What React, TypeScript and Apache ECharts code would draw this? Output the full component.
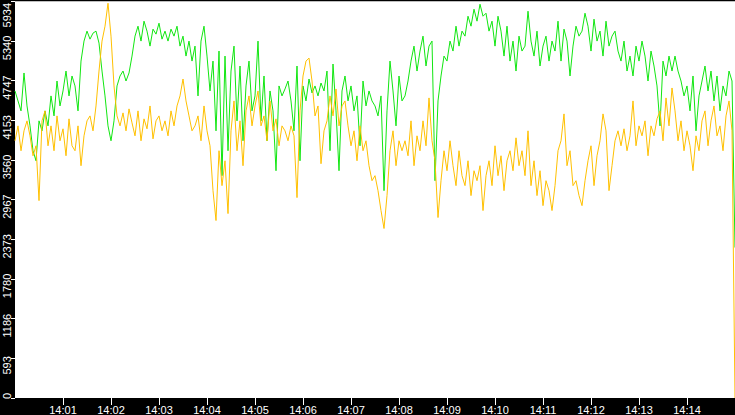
import { useEffect, useRef } from "react";
import * as echarts from "echarts";

// one sample every 3.75 s, 14:00:00 -> 14:15:00
const SAMPLE_SECONDS = 3.75;

const timeLabels = [
  "14:01", "14:02", "14:03", "14:04", "14:05", "14:06", "14:07",
  "14:08", "14:09", "14:10", "14:11", "14:12", "14:13", "14:14"
];

const yTickLabels = ["0", "593", "1186", "1780", "2373", "2967", "3560", "4153", "4747", "5340", "5934"];
const Y_MAX = 5934;

const greenSeries = [
  4592, 4443, 4294, 4861, 4368, 4070, 3698, 3548, 4145, 3996,
  4294, 4070, 4518, 4219, 4741, 4368, 4592, 4890, 4518, 4816,
  4667, 4294, 5039, 5338, 5487, 5367, 5457, 5487, 5308, 4890,
  4518, 4070, 3847, 4145, 4667, 4816, 4890, 4741, 4861, 5114,
  5412, 5561, 5338, 5636, 5487, 5263, 5517, 5442, 5606, 5367,
  5487, 5338, 5517, 5412, 5561, 5263, 5412, 5114, 5338, 5039,
  5263, 4518, 5338, 5561, 5114, 4592, 5039, 3996, 5189, 3325,
  5114, 3698, 4890, 5263, 4145, 4965, 3847, 4667, 5039, 4294,
  4518, 5338, 4145, 4816, 3847, 4592, 4294, 3399, 4667, 4518,
  4622, 4741, 4443, 3996, 4965, 3548, 4667, 4443, 4771, 4562,
  4667, 4518, 4711, 4592, 4890, 3698, 4995, 4294, 3399, 4592,
  4816, 4443, 4667, 4294, 4518, 3772, 4741, 4368, 4592, 4443,
  4368, 4219, 4518, 3101, 4294, 5039, 4592, 4070, 4816, 4443,
  4518, 4741, 5039, 5263, 4890, 5189, 5412, 4965, 5263, 5338,
  3250, 4443, 4816, 5114, 5039, 5338, 5189, 5561, 5263, 5487,
  5412, 5710, 5561, 5815, 5636, 5889, 5710, 5755, 5487, 5636,
  5263, 5710, 5487, 5114, 5561, 5039, 5338, 4890, 5412, 5189,
  5263, 5785, 5338, 5114, 5487, 4965, 5263, 5412, 5039, 5338,
  5189, 5636, 5039, 5517, 5338, 4816, 5263, 5561, 5412, 5487,
  5755, 5561, 5189, 5666, 5338, 5487, 5114, 5636, 5263, 5412,
  5487, 5189, 5039, 5338, 4890, 5114, 4816, 5263, 5039, 5338,
  5114, 4741, 5189, 4965, 4667, 4070, 5039, 4816, 5114, 4890,
  5114, 4890, 4741, 4518, 4667, 4294, 4816, 3996, 4518, 4741,
  4965, 4592, 4890, 4443, 4816, 4294, 4667, 4518, 4890, 4741,
  2250
];

const orangeSeries = [
  3847, 4070, 3698, 3996, 4145, 3921, 3623, 3772, 2952, 4145,
  4294, 3772, 4070, 3698, 4219, 3847, 4026, 3623, 4175, 3772,
  3698, 4070, 3474, 3921, 4145, 4219, 3996, 4368, 4890, 5338,
  5561, 5904, 5412, 4667, 4219, 4070, 4264, 3996, 4324, 4115,
  3921, 4294, 3847, 4175, 4026, 4368, 3876, 4145, 4219, 3996,
  4145, 3921, 4294, 4070, 4368, 4518, 4771, 4443, 4219, 3996,
  4070, 4219, 3847, 4368, 3996, 3772, 3101, 2654, 3698, 3176,
  3548, 2758, 3996, 4443, 3698, 4145, 3474, 4294, 4518, 4070,
  4368, 4592, 4070, 4219, 3847, 4443, 3996, 4175, 3772, 4070,
  3996, 3847, 4070, 3921, 2997, 4294, 4816, 5039, 5084, 4741,
  4219, 4368, 3504, 3996, 4145, 4518, 4219, 4622, 4070, 4368,
  4443, 4070, 3772, 3996, 3548, 4070, 3698, 3847, 3474, 3250,
  3325, 3101, 2803, 2535, 3027, 3698, 3996, 3474, 3847, 3698,
  3847, 3623, 4145, 3474, 3921, 3698, 4145, 3772, 4488, 3847,
  3548, 2699, 3250, 3698, 3399, 3847, 3474, 3176, 3698, 3325,
  3176, 3548, 3027, 3399, 3250, 3474, 2803, 3325, 3548, 3176,
  3772, 3325, 3623, 3101, 3548, 3698, 3399, 3891, 3474, 3698,
  3325, 3996, 3176, 3548, 3027, 3399, 2877, 3250, 3101, 2803,
  3176, 3698, 3847, 4249, 3474, 3698, 3176, 3250, 3027, 2877,
  3250, 3548, 3772, 3176, 3623, 3847, 4249, 3996, 3101, 3474,
  3847, 3996, 3772, 4026, 3698, 3921, 4443, 3772, 4070, 3921,
  4145, 3623, 4070, 3921, 4175, 4294, 3847, 4488, 4070, 4637,
  4294, 3847, 4145, 3698, 3996, 3772, 3399, 3921, 3698, 4145,
  4294, 3772, 4145, 4368, 3921, 4070, 3698, 4219, 4443, 3996,
  0
];

const FONT = "Liberation Sans";

export default function App() {
  const ref = useRef<HTMLDivElement | null>(null);

  useEffect(() => {
    if (!ref.current) {
      return;
    }
    const chart = echarts.init(ref.current, null, { renderer: "svg" });
    const yStep = Y_MAX / (yTickLabels.length - 1);
    const yValues = yTickLabels.map((_, i) => i * yStep);
    const xValues = timeLabels.map((_, i) => (i + 1) * 60);
    const lastY = yTickLabels.length - 1;

    chart.setOption({
      animation: false,
      backgroundColor: "#000",
      grid: {
        left: 15,
        right: 0,
        top: 0,
        bottom: 17,
        show: true,
        backgroundColor: "#fff",
        borderWidth: 0
      },
      xAxis: {
        type: "value",
        min: 0,
        max: 900,
        axisLine: { show: false },
        splitLine: { show: false },
        axisTick: {
          customValues: xValues,
          length: 7,
          lineStyle: { color: "#fff", width: 1 }
        },
        axisLabel: {
          customValues: xValues,
          color: "#fff",
          fontFamily: FONT,
          fontSize: 11,
          margin: 6,
          formatter: (v: number) => timeLabels[Math.round(v / 60) - 1] ?? ""
        }
      },
      yAxis: {
        type: "value",
        min: 0,
        max: Y_MAX,
        axisLine: { show: false },
        splitLine: { show: false },
        axisTick: {
          customValues: yValues,
          length: 4,
          lineStyle: { color: "#fff", width: 1 }
        },
        axisLabel: {
          customValues: yValues,
          color: "#fff",
          fontFamily: FONT,
          fontSize: 11,
          rotate: 90,
          align: "center",
          verticalAlign: "middle",
          margin: 8,
          formatter: (v: number) => {
            const idx = Math.round(v / yStep);
            const text = yTickLabels[idx] ?? "";
            if (idx === 0) return `{bottom|${text}}`;
            if (idx === lastY) return `{top|${text}}`;
            return `{mid|${text}}`;
          },
          rich: {
            // padding shifts the rotated text along the axis
            mid: { color: "#fff", fontFamily: FONT, fontSize: 11, padding: [0, 14, 0, 0] },
            top: { color: "#fff", fontFamily: FONT, fontSize: 11, padding: [0, 28, 0, 0] },
            bottom: { color: "#fff", fontFamily: FONT, fontSize: 11, padding: [0, 0, 0, 4] }
          }
        }
      },
      series: [
        {
          name: "green",
          type: "line",
          data: greenSeries.map((v, i) => [i * SAMPLE_SECONDS, v]),
          showSymbol: false,
          silent: true,
          lineStyle: { width: 1, color: "#11e611" }
        },
        {
          name: "orange",
          type: "line",
          data: orangeSeries.map((v, i) => [i * SAMPLE_SECONDS, v]),
          showSymbol: false,
          silent: true,
          lineStyle: { width: 1, color: "#ffc000" }
        }
      ]
    });

    return () => {
      chart.dispose();
    };
  }, []);

  return (
    <div
      ref={ref}
      style={{ position: "absolute", left: 0, top: 0, width: 735, height: 415 }}
    />
  );
}
